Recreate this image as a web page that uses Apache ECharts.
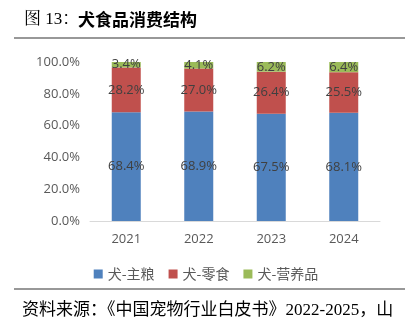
<!DOCTYPE html>
<html><head><meta charset="utf-8">
<script src="https://cdn.jsdelivr.net/npm/echarts@6/dist/echarts.min.js"></script>
<style>html,body{margin:0;padding:0;background:#fff}#c{width:412px;height:328px}</style>
</head><body><div id="c"></div>
<script>
const categories = ['2021','2022','2023','2024'];
const seriesNames = ['犬-主粮','犬-零食','犬-营养品'];
const staple = [68.4, 68.9, 67.5, 68.1];
const snack = [28.2, 27.0, 26.4, 25.5];
const supplement = [3.4, 4.1, 6.2, 6.4];
const colors = ['#4F81BD','#C0504D','#9BBB59'];

const chart = echarts.init(document.getElementById('c'));
const lbl = {show:true, position:'inside', color:'#404040', fontSize:13, fontFamily:'Open Sans, sans-serif', formatter: p => p.value.toFixed(1)+'%'};
const mk = (name, data, i) => ({name, type:'bar', stack:'s', data, barWidth:29, itemStyle:{color:colors[i]}, label:lbl});
chart.setOption({
  animation:false,
  grid:{left:90, width:290, top:62, bottom:107},
  legend:{top:262, left:'center', itemWidth:9, itemHeight:9, itemGap:14, icon:'rect',
    textStyle:{color:'#595959', fontSize:14, fontFamily:'Noto Sans CJK SC'}},
  xAxis:{type:'category', data:categories, axisTick:{show:false},
    axisLine:{lineStyle:{color:'#d9d9d9'}},
    axisLabel:{color:'#595959', fontSize:13, margin:12, fontFamily:'Open Sans, sans-serif'}},
  yAxis:{type:'value', min:0, max:100, interval:20, splitLine:{show:false},
    axisLabel:{color:'#595959', fontSize:13, margin:10, fontFamily:'Open Sans, sans-serif', formatter: v => v.toFixed(1)+'%'}},
  series:[mk(seriesNames[0], staple,0), mk(seriesNames[1], snack,1), mk(seriesNames[2], supplement,2)],
  graphic:[
    {type:'text', x:24, y:20, style:{text:'图 13：', font:'17px "Liberation Serif", "Noto Serif CJK SC", serif', fill:'#000', verticalAlign:'middle'}},
    {type:'text', x:78, y:20, style:{text:'犬食品消费结构', font:'bold 17px "Noto Sans CJK SC"', fill:'#000', verticalAlign:'middle'}},
    {type:'line', shape:{x1:14, y1:38, x2:405, y2:38}, style:{stroke:'#333', lineWidth:1.2}},
    {type:'line', shape:{x1:14, y1:289, x2:405, y2:289}, style:{stroke:'#333', lineWidth:1.2}},
    {type:'text', x:22, y:311, style:{text:'资料来源：《中国宠物行业白皮书》2022-2025，山', font:'17px "Liberation Serif", "Noto Sans CJK SC", serif', fill:'#000', verticalAlign:'middle'}}
  ]
});
</script></body></html>
